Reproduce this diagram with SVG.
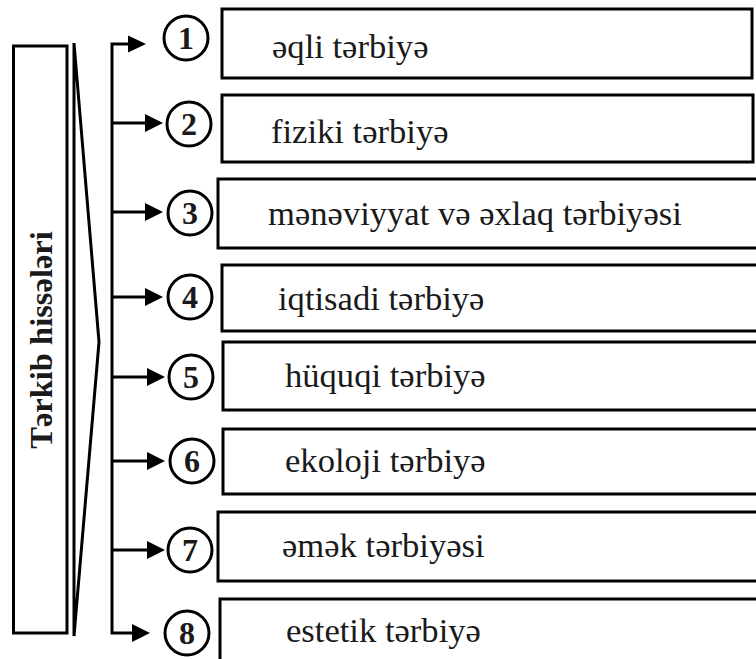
<svg xmlns="http://www.w3.org/2000/svg" width="756" height="659" viewBox="0 0 756 659">
<style>
.box{fill:#fff;stroke:#000;stroke-width:3}
.circ{fill:#fff;stroke:#000;stroke-width:3}
.num{font-family:'Liberation Serif','Times New Roman',serif;font-weight:bold;font-size:32px;fill:#1a1a1a;text-anchor:middle}
.lbl{font-family:'Liberation Serif','Times New Roman',serif;font-size:34.6px;fill:#1a1a1a}
.ttl{font-family:'Liberation Serif','Times New Roman',serif;font-weight:bold;font-size:32.5px;fill:#1a1a1a;text-anchor:middle}
.ln{stroke:#000;stroke-width:3;fill:none}
.ah{fill:#000}
</style>
<rect width="756" height="659" fill="#fff"/>
<g id="main">
<rect class="box" x="13.5" y="46" width="53.5" height="587"/>
<text class="ttl" x="0" y="0" transform="translate(52,340) rotate(-90)">Tərkib hissələri</text>
<polygon points="74,43 99,342 74,636" fill="none" stroke="#000" stroke-width="3"/>
</g>
<g id="connectors">
<polyline class="ln" points="129,44 112,44 112,633 133,633"/>
<line class="ln" x1="112" y1="123" x2="146" y2="123"/>
<line class="ln" x1="112" y1="212" x2="146" y2="212"/>
<line class="ln" x1="112" y1="297" x2="146" y2="297"/>
<line class="ln" x1="112" y1="377" x2="148" y2="377"/>
<line class="ln" x1="112" y1="461" x2="148" y2="461"/>
<line class="ln" x1="112" y1="550" x2="148" y2="550"/>
<polygon class="ah" points="128,35.5 146,44 128,52.5"/>
<polygon class="ah" points="145,114 163,123 145,132"/>
<polygon class="ah" points="145,203 163,212 145,221"/>
<polygon class="ah" points="145,288 163,297 145,306"/>
<polygon class="ah" points="147,368 165,377 147,386"/>
<polygon class="ah" points="147,452 165,461 147,470"/>
<polygon class="ah" points="147,541 165,550 147,559"/>
<polygon class="ah" points="132,624 150,633 132,642"/>
</g>
<g id="n1"><circle class="circ" cx="186" cy="38" r="22"/><text class="num" x="186" y="49">1</text><rect class="box" x="222" y="9" width="530" height="69"/><text class="lbl" x="272" y="58">əqli tərbiyə</text></g>
<g id="n2"><circle class="circ" cx="189" cy="124" r="22"/><text class="num" x="189" y="135">2</text><rect class="box" x="222" y="95" width="531" height="67"/><text class="lbl" x="271" y="143">fiziki tərbiyə</text></g>
<g id="n3"><circle class="circ" cx="190" cy="213" r="22"/><text class="num" x="190" y="224">3</text><rect class="box" x="218" y="179" width="545" height="69"/><text class="lbl" x="268" y="225">mənəviyyat və əxlaq tərbiyəsi</text></g>
<g id="n4"><circle class="circ" cx="190" cy="297" r="22"/><text class="num" x="190" y="308">4</text><rect class="box" x="222" y="265" width="545" height="66"/><text class="lbl" x="278" y="310">iqtisadi tərbiyə</text></g>
<g id="n5"><circle class="circ" cx="191" cy="377" r="22"/><text class="num" x="191" y="388">5</text><rect class="box" x="223" y="342" width="545" height="68"/><text class="lbl" x="285" y="387">hüquqi tərbiyə</text></g>
<g id="n6"><circle class="circ" cx="192" cy="461" r="22"/><text class="num" x="192" y="472">6</text><rect class="box" x="223" y="429" width="545" height="65"/><text class="lbl" x="285" y="472">ekoloji tərbiyə</text></g>
<g id="n7"><circle class="circ" cx="190" cy="550" r="22"/><text class="num" x="190" y="561">7</text><rect class="box" x="218" y="512" width="545" height="69"/><text class="lbl" x="282" y="557">əmək tərbiyəsi</text></g>
<g id="n8"><circle class="circ" cx="187" cy="633" r="22"/><text class="num" x="187" y="644">8</text><rect class="box" x="220" y="599" width="545" height="70"/><text class="lbl" x="286" y="642">estetik tərbiyə</text></g>
</svg>
